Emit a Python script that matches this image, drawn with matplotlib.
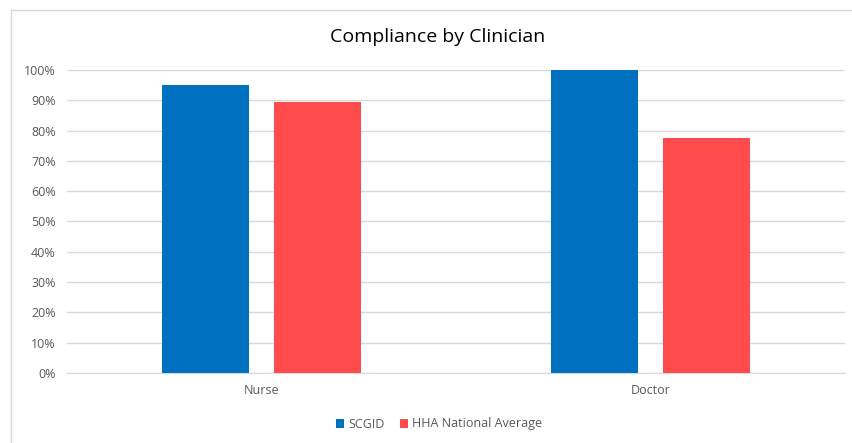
import matplotlib.pyplot as plt
import matplotlib.ticker as mticker
from matplotlib.lines import Line2D
import numpy as np

categories = ['Nurse', 'Doctor']
scgid = [0.952, 1.0]
hha_avg = [0.894, 0.774]
series_names = ['SCGID', 'HHA National Average']

blue = '#0070C0'
red = '#FF4B4B'
grey_text = '#595959'

plt.rcParams['font.family'] = ['Open Sans', 'DejaVu Sans']

fig = plt.figure(figsize=(8.53, 4.43), dpi=100)
ax = fig.add_axes([67 / 853, 1 - 373 / 443, 778 / 853, 303 / 443])

x = np.arange(len(categories))
width = 0.226
gap = 0.062
ax.bar(x - (width + gap) / 2, scgid, width, color=blue, label=series_names[0], zorder=3)
ax.bar(x + (width + gap) / 2, hha_avg, width, color=red, label=series_names[1], zorder=3)

ax.set_xlim(-0.5, len(categories) - 0.5)
ax.set_ylim(0, 1)
ax.yaxis.set_major_locator(mticker.MultipleLocator(0.1))
ax.yaxis.set_major_formatter(mticker.PercentFormatter(1.0, decimals=0))
ax.grid(axis='y', color='#d9d9d9', linewidth=1, zorder=0)
ax.set_xticks(x)
ax.set_xticklabels(categories)
ax.tick_params(axis='both', length=0, labelsize=9, colors=grey_text, pad=8)
for s in ['top', 'right', 'left']:
    ax.spines[s].set_visible(False)
ax.spines['bottom'].set_color('#d9d9d9')

fig.text(438 / 853, 1 - 37 / 443, 'Compliance by Clinician', ha='center', va='center',
         fontsize=14, color='black')

ax.legend(loc='center', bbox_to_anchor=((439 - 67) / 778, (373 - 424) / 303), ncol=2,
          frameon=False, fontsize=9, labelcolor=grey_text, handlelength=0.7,
          handleheight=0.7, handletextpad=0.3, columnspacing=1.2)

# chart border
fig.add_artist(Line2D([11 / 853, 11 / 853], [0, 1 - 10 / 443], color='#d9d9d9', lw=1))
fig.add_artist(Line2D([11 / 853, 1], [1 - 10 / 443, 1 - 10 / 443], color='#d9d9d9', lw=1))

fig.savefig('out.png', dpi=100)
